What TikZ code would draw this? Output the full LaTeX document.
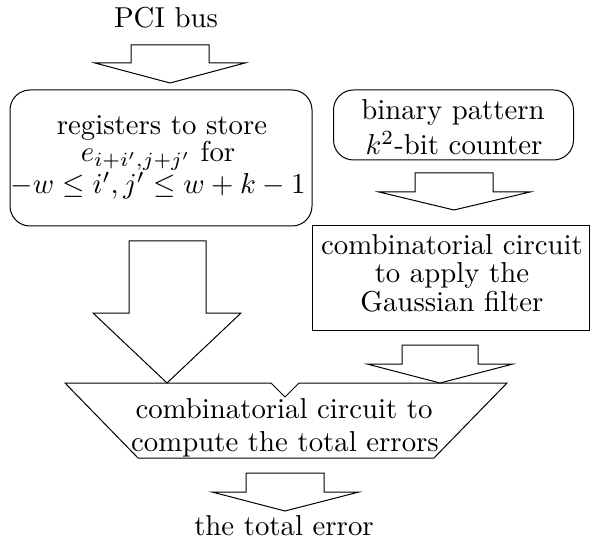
\documentclass[tikz,border=0pt]{standalone}
% Computer Modern at its 10pt design size, scaled up as a whole
\newcommand\txtscale{2.88}
\newcommand\bigtxt[1]{\scalebox{\txtscale}{#1}}
\begin{document}
\begin{tikzpicture}[x=1pt,y=-1pt,
  line width=1pt, line join=miter,
  lbl/.style={anchor=base, inner sep=0pt},
  roundbox/.style={draw, rounded corners=20pt, inner sep=0pt},
  sqbox/.style={draw, inner sep=0pt},
  blockarrow/.style={draw, fill=white}]
\useasboundingbox (0,0) rectangle (592,540);

% boxes
\node[roundbox, minimum width=302pt, minimum height=136pt] (reg) at (161,158) {};
\node[roundbox, minimum width=240pt, minimum height=70pt] (bin) at (453.5,125) {};
\node[sqbox, minimum width=277pt, minimum height=104pt] (gauss) at (450.5,278) {};

% trapezoid that sums the errors, with its small notch on top
\draw (65,383) -- (271,383) -- (285,397) -- (299,383) -- (507,383)
      -- (434,458) -- (138,458) -- cycle;

% block arrows
\draw[blockarrow] (131,45) -- (209,45) -- (209,63) -- (245,63) -- (170,83)
      -- (95,63) -- (131,63) -- cycle;
\draw[blockarrow] (415,173) -- (493,173) -- (493,192) -- (530,192) -- (454,210)
      -- (379,192) -- (415,192) -- cycle;
\draw[blockarrow] (129,241) -- (206,241) -- (206,313) -- (241,313) -- (167,383)
      -- (93,313) -- (129,313) -- cycle;
\draw[blockarrow] (402,345) -- (478,345) -- (478,364) -- (513,364) -- (440,383)
      -- (367,364) -- (402,364) -- cycle;
\draw[blockarrow] (246,473) -- (324,473) -- (324,492) -- (359,492) -- (285,511)
      -- (212,492) -- (246,492) -- cycle;

% texts
\node[lbl] (pci) at (166,28) {\bigtxt{PCI bus}};
\node[lbl] (reg1) at (162,135) {\bigtxt{registers to store}};
\node[lbl] (reg2) at (158,162) {\bigtxt{$e_{i+i',j+j'}$ for}};
\node[lbl] (reg3) at (158,194) {\bigtxt{$-w \le i', j' \le w+k-1$}};
\node[lbl] (bin1) at (453,120) {\bigtxt{binary pattern}};
\node[lbl] (bin2) at (454,155) {\bigtxt{$k^2$-bit counter}};
\node[lbl] (g1) at (452,255) {\bigtxt{combinatorial circuit}};
\node[lbl] (g2) at (452,283) {\bigtxt{to apply the}};
\node[lbl] (g3) at (452,312) {\bigtxt{Gaussian filter}};
\node[lbl] (t1) at (284,418) {\bigtxt{combinatorial circuit to}};
\node[lbl] (t2) at (285,451) {\bigtxt{compute the total errors}};
\node[lbl] (out) at (284,535) {\bigtxt{the total error}};
\end{tikzpicture}
\end{document}
